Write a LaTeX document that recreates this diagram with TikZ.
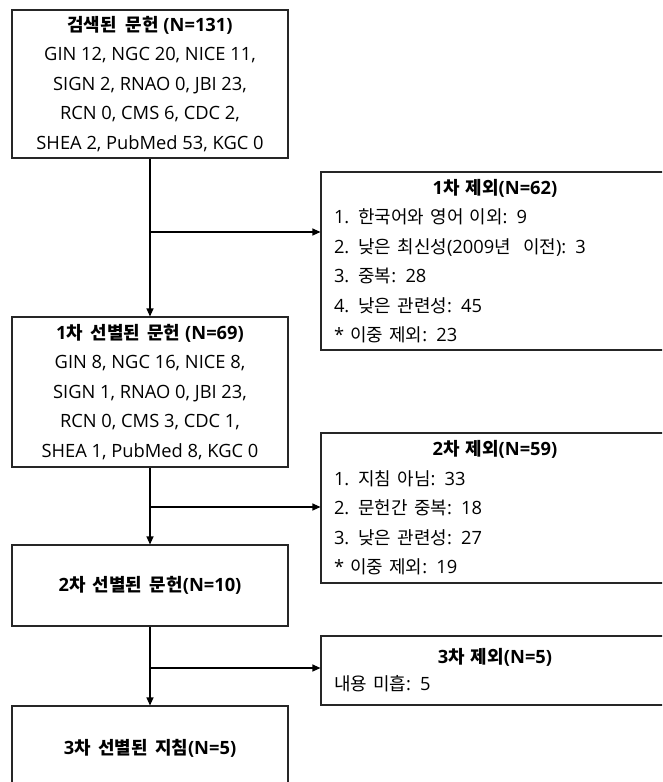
\documentclass[tikz,border=0pt]{standalone}
\usepackage{fontspec}
\setmainfont{Open Sans}
\newfontfamily\krfont{Noto Sans CJK KR}[Scale=0.98, WordSpace=1.8]
\newcommand\K[1]{{\krfont #1}}
\usetikzlibrary{arrows.meta}
\tikzset{
  box/.style={draw=black!85, line width=1.1pt, fill=white, inner sep=0pt, align=center,
    font=\fontsize{18.3}{29.5}\selectfont},
  exbox/.style={draw=black!85, line width=1.1pt, fill=white, inner xsep=13pt, inner ysep=0pt, align=left,
    text width=322pt, font=\fontsize{18.3}{29.5}\selectfont},
  conn/.style={draw=black, line width=1.1pt},
  arr/.style={conn, -{Triangle[length=8pt,width=7pt]}}
}
\begin{document}
\begin{tikzpicture}[x=1pt,y=-1pt]
\useasboundingbox (0,0) rectangle (662,782);
\clip (0,0) rectangle (662,782);
\node[box, minimum width=276pt, minimum height=148pt] (b1) at (150,84)
  {\textbf{\K{검색된}\hspace{4pt} \K{문헌} (N=131)}\\GIN 12, NGC 20, NICE 11,\\SIGN 2, RNAO 0, JBI 23,\\RCN 0, CMS 6, CDC 2,\\SHEA 2, PubMed 53, KGC 0};
\node[box, minimum width=276pt, minimum height=150pt] (b2) at (150,392)
  {\textbf{1\K{차 선별된 문헌} (N=69)}\\GIN 8, NGC 16, NICE 8,\\SIGN 1, RNAO 0, JBI 23,\\RCN 0, CMS 3, CDC 1,\\SHEA 1, PubMed 8, KGC 0};
\node[box, minimum width=276pt, minimum height=81pt] (b3) at (150,585.5)
  {\textbf{2\K{차 선별된 문헌}(N=10)}};
\node[box, minimum width=276pt, minimum height=84pt] (b4) at (150,748)
  {\textbf{3\K{차 선별된 지침}(N=5)}};
\node[exbox, minimum height=178pt] (e1) at (495,261)
  {\makebox[\linewidth]{\textbf{1\K{차 제외}(N=62)}}\\1. \K{한국어와 영어 이외}: 9\\2. \K{낮은 최신성}(2009\K{년}\ \ \K{이전}): 3\\3. \K{중복}: 28\\4. \K{낮은 관련성}: 45\\{}* \K{이중 제외}: 23};
\node[exbox, minimum height=150pt] (e2) at (495,508)
  {\makebox[\linewidth]{\textbf{2\K{차 제외}(N=59)}}\\1. \K{지침 아님}: 33\\2. \K{문헌간 중복}: 18\\3. \K{낮은 관련성}: 27\\{}* \K{이중 제외}: 19};
\node[exbox, minimum height=69pt, font=\fontsize{18.3}{27}\selectfont] (e3) at (495,670.5)
  {\makebox[\linewidth]{\textbf{3\K{차 제외}(N=5)}}\\\K{내용 미흡}: 5};
\coordinate (j1) at (150,232);
\coordinate (j2) at (150,507);
\coordinate (j3) at (150,668);
\draw[arr] (b1.south) -- (b2.north);
\draw[arr] (b2.south) -- (b3.north);
\draw[arr] (b3.south) -- (b4.north);
\draw[arr] (j1) -- (j1 -| e1.west);
\draw[arr] (j2) -- (j2 -| e2.west);
\draw[arr] (j3) -- (j3 -| e3.west);
\end{tikzpicture}
\end{document}
